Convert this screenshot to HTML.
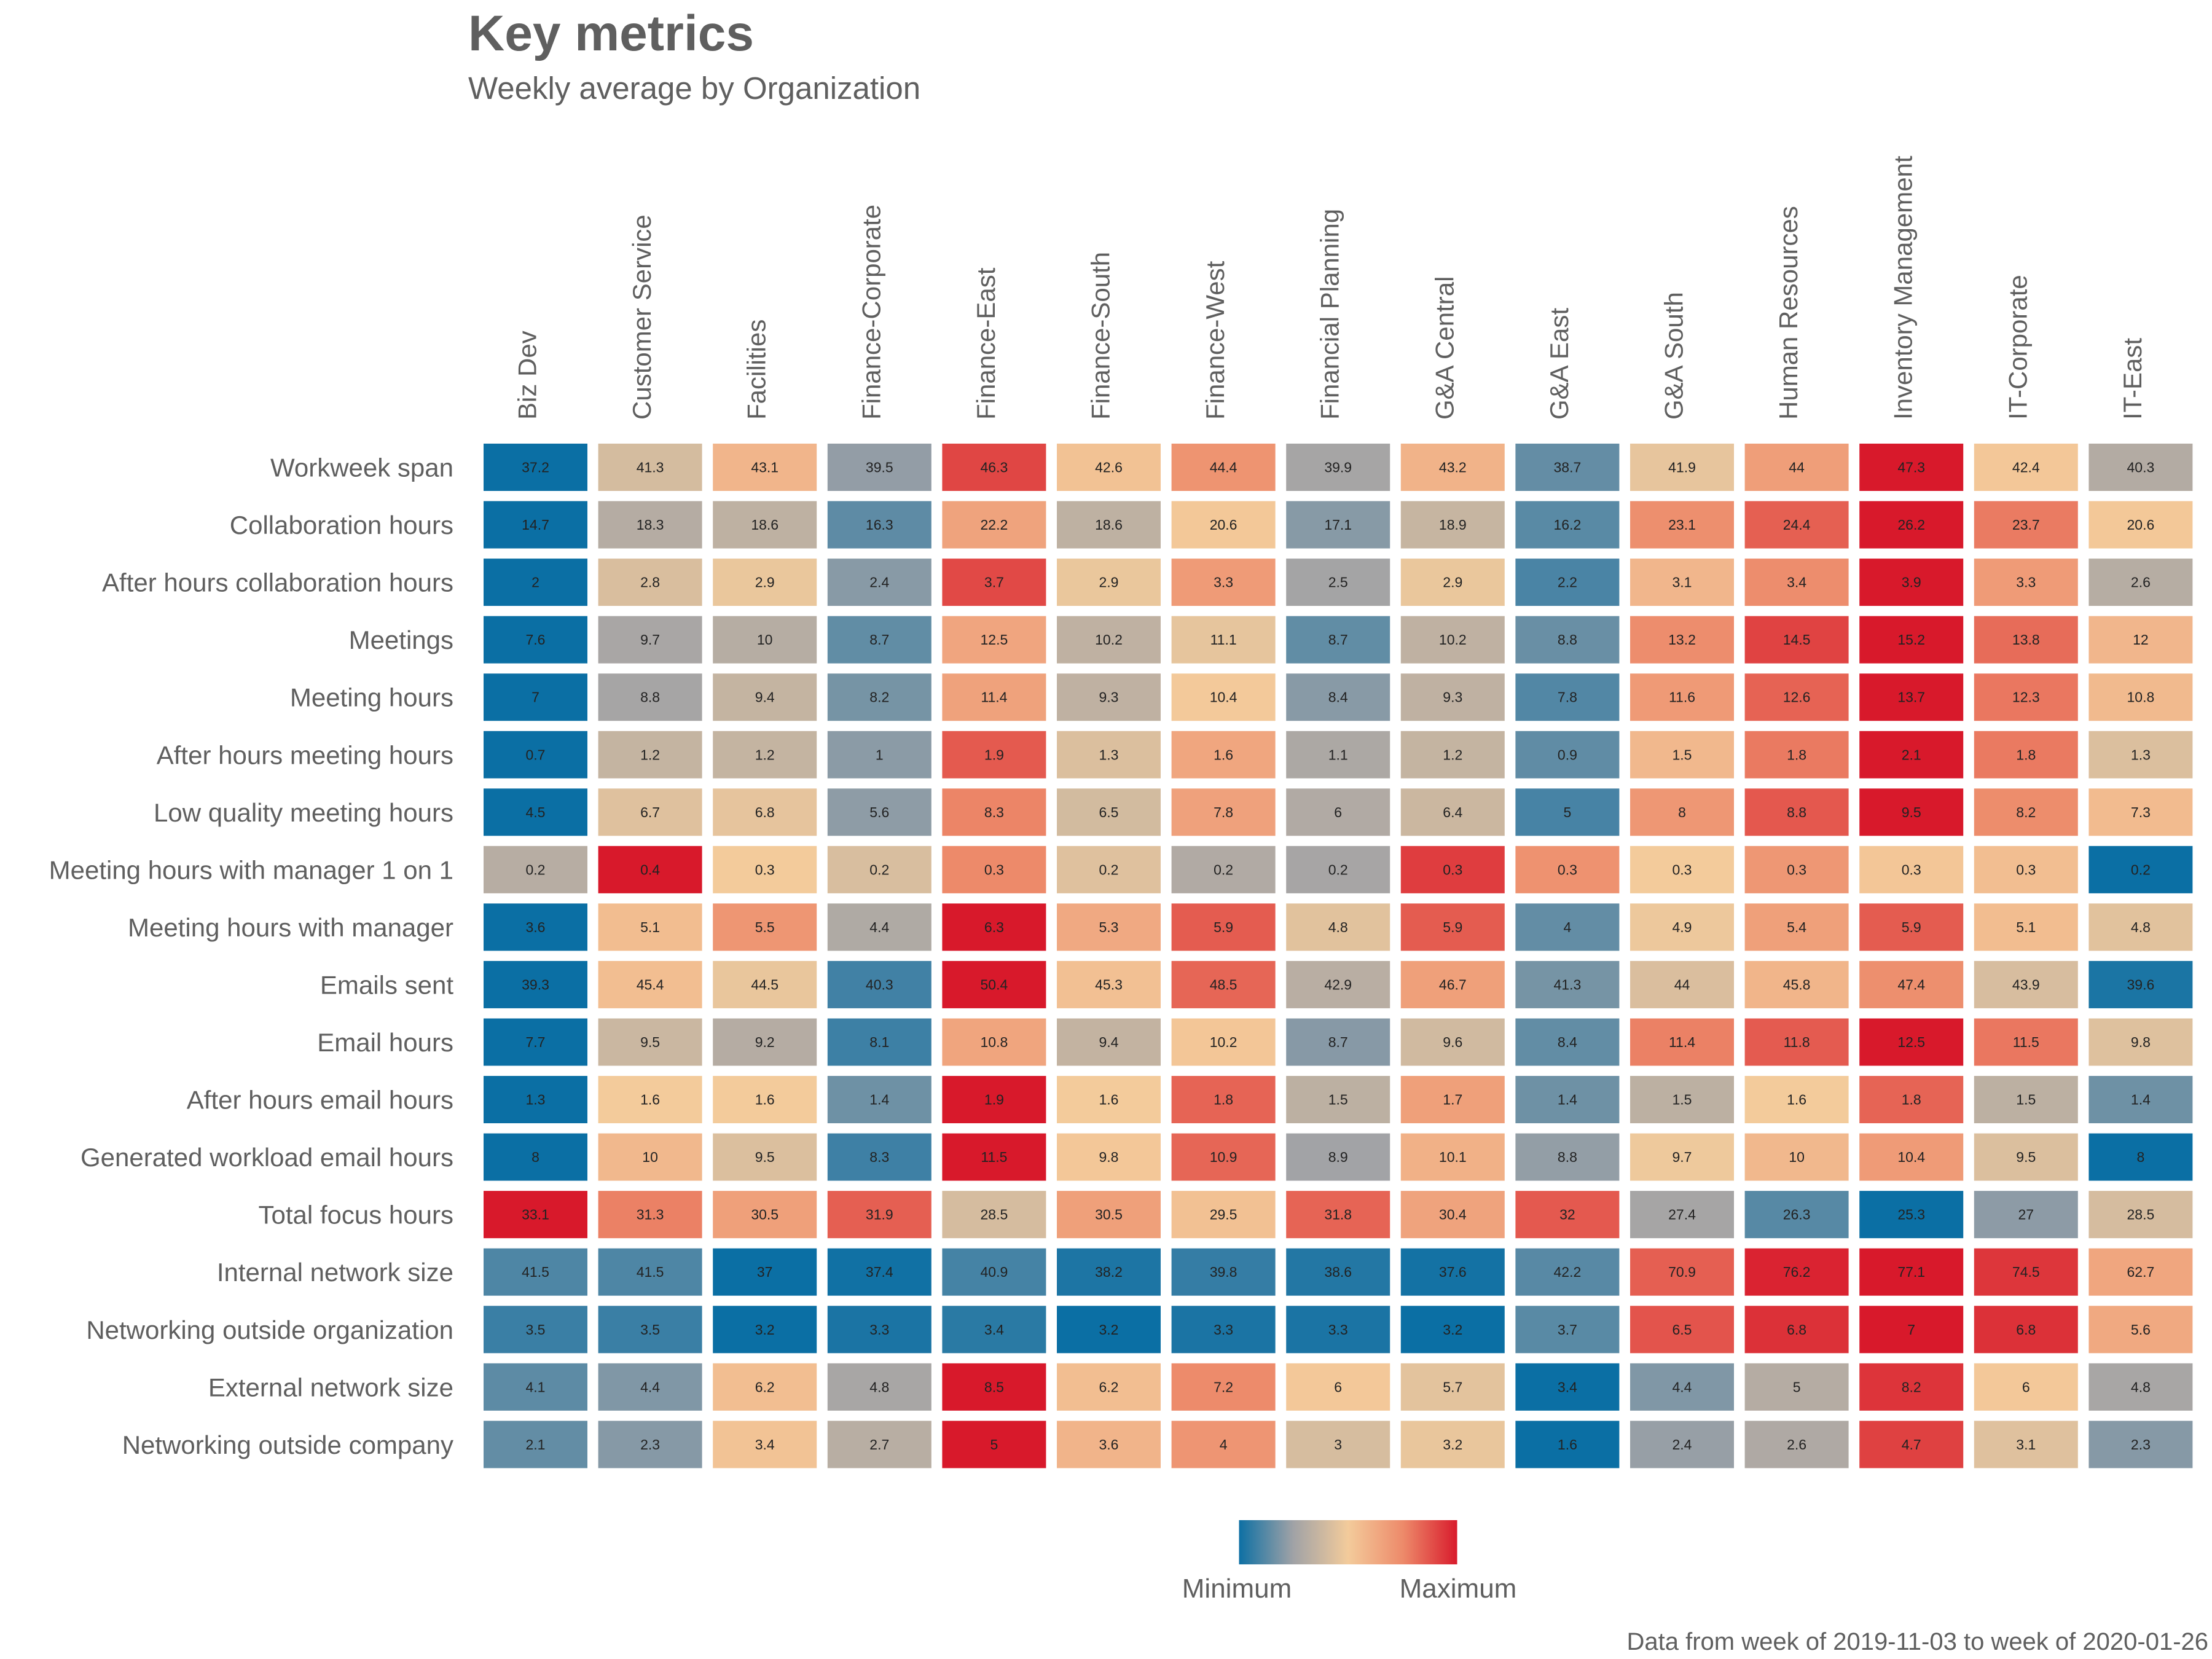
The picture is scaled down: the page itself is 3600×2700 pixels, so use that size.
<!DOCTYPE html>
<html><head><meta charset="utf-8">
<style>
html,body{margin:0;padding:0;background:#fff;}
svg{display:block;font-family:"Liberation Sans",Arial,sans-serif;}
</style></head>
<body>
<svg id="chart" width="3600" height="2700" viewBox="0 0 3600 2700" xmlns="http://www.w3.org/2000/svg">
<defs>
<linearGradient id="legendGrad" x1="0" x2="1" y1="0" y2="0">
<stop offset="0" stop-color="#0b6fa4"/>
<stop offset="0.25" stop-color="#a0a2a6"/>
<stop offset="0.5" stop-color="#f3cb9b"/>
<stop offset="0.75" stop-color="#ed8a6a"/>
<stop offset="1" stop-color="#d8192b"/>
</linearGradient>
</defs>
<text x="762" y="82" font-size="82" font-weight="bold" fill="#5f5f5f">Key metrics</text>
<text x="762" y="161" font-size="51" fill="#5f5f5f">Weekly average by Organization</text>
<g id="grid"></g>
<g>
<rect x="2015" y="2474" width="358" height="72" fill="url(#legendGrad)"/>
<line x1="2015" x2="2015" y1="2474" y2="2546" stroke="#fff" stroke-width="3"/>
<line x1="2373" x2="2373" y1="2474" y2="2546" stroke="#fff" stroke-width="3"/>
<text x="2013" y="2600" font-size="44" fill="#5f5f5f" text-anchor="middle">Minimum</text>
<text x="2373" y="2600" font-size="44" fill="#5f5f5f" text-anchor="middle">Maximum</text>
</g>
<text x="3594" y="2685" font-size="40" fill="#5f5f5f" text-anchor="end">Data from week of 2019-11-03 to week of 2020-01-26</text>
</svg>
<script>
const organizations = ["Biz Dev","Customer Service","Facilities","Finance-Corporate","Finance-East","Finance-South","Finance-West","Financial Planning","G&A Central","G&A East","G&A South","Human Resources","Inventory Management","IT-Corporate","IT-East"];
const metrics = ["Workweek span","Collaboration hours","After hours collaboration hours","Meetings","Meeting hours","After hours meeting hours","Low quality meeting hours","Meeting hours with manager 1 on 1","Meeting hours with manager","Emails sent","Email hours","After hours email hours","Generated workload email hours","Total focus hours","Internal network size","Networking outside organization","External network size","Networking outside company"];
const workweekSpan = [37.2,41.3,43.1,39.5,46.3,42.6,44.4,39.9,43.2,38.7,41.9,44,47.3,42.4,40.3];
const collaborationHours = [14.7,18.3,18.6,16.3,22.2,18.6,20.6,17.1,18.9,16.2,23.1,24.4,26.2,23.7,20.6];
const afterHoursCollab = [2,2.8,2.9,2.4,3.7,2.9,3.3,2.5,2.9,2.2,3.1,3.4,3.9,3.3,2.6];
const meetings = [7.6,9.7,10,8.7,12.5,10.2,11.1,8.7,10.2,8.8,13.2,14.5,15.2,13.8,12];
const meetingHours = [7,8.8,9.4,8.2,11.4,9.3,10.4,8.4,9.3,7.8,11.6,12.6,13.7,12.3,10.8];
const afterHoursMeeting = [0.7,1.2,1.2,1,1.9,1.3,1.6,1.1,1.2,0.9,1.5,1.8,2.1,1.8,1.3];
const lowQualityMeeting = [4.5,6.7,6.8,5.6,8.3,6.5,7.8,6,6.4,5,8,8.8,9.5,8.2,7.3];
const managerOneOnOne = [0.224,0.36,0.26,0.244,0.31,0.248,0.22,0.214,0.344,0.304,0.26,0.30,0.264,0.27,0.16];
const meetingWithManager = [3.6,5.1,5.5,4.4,6.3,5.3,5.9,4.8,5.9,4,4.9,5.4,5.9,5.1,4.8];
const emailsSent = [39.3,45.4,44.5,40.3,50.4,45.3,48.5,42.9,46.7,41.3,44,45.8,47.4,43.9,39.6];
const emailHours = [7.7,9.5,9.2,8.1,10.8,9.4,10.2,8.7,9.6,8.4,11.4,11.8,12.5,11.5,9.8];
const afterHoursEmail = [1.3,1.6,1.6,1.4,1.9,1.6,1.8,1.5,1.7,1.4,1.5,1.6,1.8,1.5,1.4];
const generatedWorkload = [8,10,9.5,8.3,11.5,9.8,10.9,8.9,10.1,8.8,9.7,10,10.4,9.5,8];
const totalFocus = [33.1,31.3,30.5,31.9,28.5,30.5,29.5,31.8,30.4,32,27.4,26.3,25.3,27,28.5];
const internalNetwork = [41.5,41.5,37,37.4,40.9,38.2,39.8,38.6,37.6,42.2,70.9,76.2,77.1,74.5,62.7];
const networkingOutsideOrg = [3.5,3.5,3.2,3.3,3.4,3.2,3.3,3.3,3.2,3.7,6.5,6.8,7,6.8,5.6];
const externalNetwork = [4.1,4.4,6.2,4.8,8.5,6.2,7.2,6,5.7,3.4,4.4,5,8.2,6,4.8];
const networkingOutsideCompany = [2.1,2.3,3.4,2.7,5,3.6,4,3,3.2,1.6,2.4,2.6,4.7,3.1,2.3];
const valueRows = [workweekSpan,collaborationHours,afterHoursCollab,meetings,meetingHours,afterHoursMeeting,lowQualityMeeting,managerOneOnOne,meetingWithManager,emailsSent,emailHours,afterHoursEmail,generatedWorkload,totalFocus,internalNetwork,networkingOutsideOrg,externalNetwork,networkingOutsideCompany];

const NS = "http://www.w3.org/2000/svg";
const g = document.getElementById("grid");
const X0 = 787, COLW = 186.6, TW = 169;
const Y0 = 722, ROWH = 93.55, TH = 77;
function xPos(i){ return X0 + i*COLW; }
function yPos(j){ return Y0 + j*ROWH; }
const stops = [[0,[11,111,164]],[0.25,[160,162,166]],[0.5,[243,203,155]],[0.75,[237,138,106]],[1,[216,25,43]]];
function colorScale(t){
  t = Math.max(0, Math.min(1, t));
  for (let k=0;k<stops.length-1;k++){
    const a=stops[k], b=stops[k+1];
    if (t<=b[0]){
      const f=(t-a[0])/(b[0]-a[0]);
      const c=a[1].map((v,i)=>Math.round(v+(b[1][i]-v)*f));
      return "rgb("+c.join(",")+")";
    }
  }
  return "rgb(216,25,43)";
}
function fmt(v){ return String(parseFloat(v.toFixed(1))); }
function mk(tag, attrs){ const e=document.createElementNS(NS, tag); for (const k in attrs) e.setAttribute(k, attrs[k]); return e; }

organizations.forEach((org,i)=>{
  const cx = xPos(i) + TW/2 + 1;
  const t = mk("text", {x:0, y:0, "font-size":"42", fill:"#5f5f5f", transform:"translate("+cx+",683) rotate(-90)"});
  
  
  t.textContent = org;
  g.appendChild(t);
});

metrics.forEach((m,j)=>{
  const t = mk("text", {x:738, y:yPos(j)+TH/2+15, "font-size":"42", fill:"#5f5f5f", "text-anchor":"end"});
  
  
  t.textContent = m;
  g.appendChild(t);
  const vals = valueRows[j];
  const mn = Math.min(...vals), mx = Math.max(...vals);
  vals.forEach((v,i)=>{
    const r = mk("rect", {x:xPos(i), y:yPos(j), width:TW, height:TH, fill:colorScale(mx>mn?(v-mn)/(mx-mn):0.5)});
    
    
    g.appendChild(r);
    const tx = mk("text", {x:xPos(i)+TW/2, y:yPos(j)+TH/2+8, "font-size":"23", fill:"#222", "text-anchor":"middle"});
    
    
    tx.textContent = fmt(v);
    g.appendChild(tx);
  });
});
</script>
</body></html>
